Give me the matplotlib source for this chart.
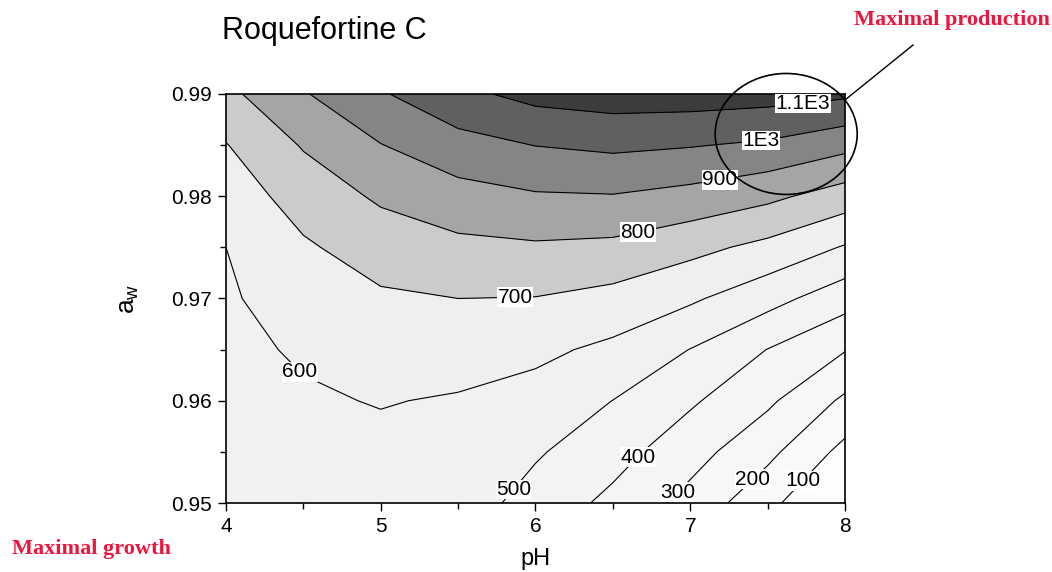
import numpy as np
import matplotlib.pyplot as plt
from matplotlib import rcParams
from matplotlib.patches import Ellipse

rcParams["font.family"] = ["Liberation Sans", "DejaVu Sans"]
rcParams["mathtext.default"] = "regular"

# grid (pH columns, a_w rows)
pH = [4.0, 4.5, 5.0, 5.5, 6.0, 6.5, 7.0, 7.5, 8.0]
aw = [0.950, 0.955, 0.960, 0.965, 0.970, 0.975, 0.980, 0.985, 0.990]
# rows = aw, columns = pH
roqC = [
    [545, 560, 560, 550, 462, 375, 267, 129, -30],
    [552, 572, 575, 565, 511, 438, 339, 226, 70],
    [563, 588, 605, 591, 563, 499, 414, 318, 182],
    [575, 612, 645, 645, 622, 578, 498, 398, 305],
    [587, 649, 686, 700, 697, 669, 615, 536, 441],
    [600, 687, 745, 776, 787, 777, 729, 673, 592],
    [645, 742, 815, 863, 890, 895, 868, 823, 753],
    [696, 808, 897, 964, 1002, 1020, 1006, 984, 929],
    [775, 892, 990, 1075, 1131, 1150, 1150, 1140, 1118],
]

levels = [-200, 100, 200, 300, 400, 500, 600, 700, 800, 900, 1000, 1100, 1300]
fillColors = ["#fdfdfd", "#f9f9f9", "#f7f7f7", "#f5f5f5", "#f3f3f3", "#f1f1f1",
              "#efefef", "#cbcbcb", "#a5a5a5", "#858585", "#606060", "#3c3c3c"]
lineLevels = [100, 200, 300, 400, 500, 600, 700, 800, 900, 1000, 1100]
labelText = {100: "100", 200: "200", 300: "300", 400: "400", 500: "500", 600: "600",
             700: "700", 800: "800", 900: "900", 1000: "1E3", 1100: "1.1E3"}
labelPos = [(7.73, 0.9521), (7.40, 0.9524), (6.93, 0.9509), (6.66, 0.9545),
            (5.86, 0.9513), (4.51, 0.9633), (5.87, 0.9700), (6.66, 0.9765),
            (7.19, 0.9816), (7.46, 0.9853), (7.73, 0.9889)]

X, Y = np.meshgrid(pH, aw)
Z = np.array(roqC, dtype=float)

fig = plt.figure(figsize=(10.52, 5.72), dpi=100)
ax = fig.add_axes([0.2148, 0.1206, 0.5884, 0.7151])

ax.contourf(X, Y, Z, levels=levels, colors=fillColors)
cs = ax.contour(X, Y, Z, levels=lineLevels, colors="black", linewidths=0.8)
labels = ax.clabel(cs, fmt=labelText, inline=False, manual=labelPos, fontsize=15, colors="black")
for t in labels:
    t.set_rotation(0)
    t.set_bbox(dict(facecolor="white", edgecolor="none", pad=0.3))

ax.set_xlim(4, 8)
ax.set_ylim(0.95, 0.99)
ax.set_xticks([4, 5, 6, 7, 8])
ax.set_xticks([4.5, 5.5, 6.5, 7.5], minor=True)
ax.set_yticks([0.95, 0.96, 0.97, 0.98, 0.99])
ax.set_yticklabels(["0.95", "0.96", "0.97", "0.98", "0.99"])
ax.set_yticks([0.955, 0.965, 0.975, 0.985], minor=True)
ax.tick_params(which="major", direction="out", length=6, width=1, labelsize=15, pad=4)
ax.tick_params(which="minor", direction="out", length=4, width=1)
for s in ax.spines.values():
    s.set_linewidth(1.2)

ax.set_xlabel("pH", fontsize=17, labelpad=9)
ax.set_ylabel("a$_{w}$", fontsize=19, labelpad=22)
fig.text(0.211, 0.945, "Roquefortine C", fontsize=22, ha="left", va="center")

# annotation: maximal production
ax.add_patch(Ellipse((7.62, 0.98609), 0.918, 0.01183, fill=False, edgecolor="black",
                     linewidth=1.2, clip_on=False, zorder=5))
ax.plot([8.0, 8.44], [0.98941, 0.99479], color="black", linewidth=1.0, clip_on=False, zorder=5)

fig.text(0.998, 0.965, "Maximal production", fontsize=16, fontweight="bold", color="#f0143c",
         family="Liberation Serif", ha="right", va="center")
fig.text(0.011, 0.04, "Maximal growth", fontsize=16, fontweight="bold", color="#f0143c",
         family="Liberation Serif", ha="left", va="center")

plt.savefig("out.png", dpi=100)
